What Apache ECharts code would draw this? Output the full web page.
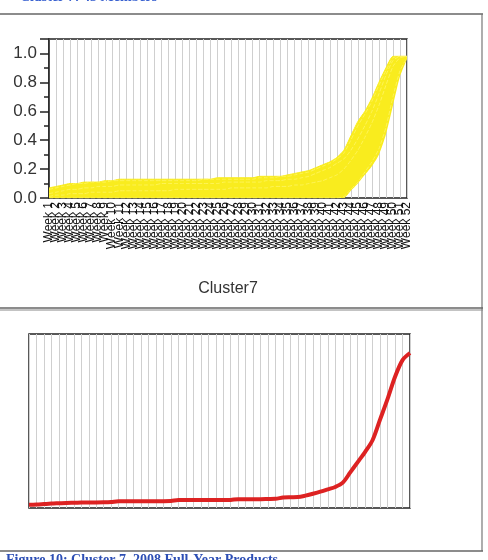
<!DOCTYPE html>
<html>
<head>
<meta charset="utf-8">
<script src="https://cdn.jsdelivr.net/npm/echarts@6/dist/echarts.min.js"></script>
<style>
html, body { margin: 0; padding: 0; background: #fff; }
#main { width: 488px; height: 560px; }
</style>
</head>
<body>
<div id="main"></div>
<script>
var myChart = echarts.init(document.getElementById('main'));

var weeks = [];
for (var w = 1; w <= 52; w++) weeks.push('Week ' + w);

var yTicks = [0.0, 0.2, 0.4, 0.6, 0.8, 1.0];

// envelope of the 43 members
var memberUpper = [0.07, 0.08, 0.09, 0.10, 0.10, 0.11, 0.11, 0.11, 0.12, 0.12,
    0.13, 0.13, 0.13, 0.13, 0.13, 0.13, 0.13, 0.13, 0.13, 0.13,
    0.13, 0.13, 0.13, 0.13, 0.14, 0.14, 0.14, 0.14, 0.14, 0.14,
    0.15, 0.15, 0.15, 0.15, 0.16, 0.17, 0.18, 0.19, 0.21, 0.23,
    0.25, 0.28, 0.33, 0.43, 0.53, 0.60, 0.69, 0.80, 0.90, 0.98, 0.98, 0.98];
var memberLower = [0, 0, 0, 0, 0, 0, 0, 0, 0, 0,
    0, 0, 0, 0, 0, 0, 0, 0, 0, 0,
    0, 0, 0, 0, 0, 0, 0, 0, 0, 0,
    0, 0, 0, 0, 0, 0, 0, 0, 0, 0,
    0, 0, 0, 0.05, 0.10, 0.16, 0.22, 0.30, 0.44, 0.64, 0.84, 0.96];

// a few individual members, visible as streaks inside the band
var memberA = [0.06, 0.07, 0.08, 0.09, 0.10, 0.10, 0.11, 0.11, 0.11, 0.12,
    0.12, 0.12, 0.12, 0.12, 0.12, 0.12, 0.12, 0.12, 0.12, 0.12,
    0.12, 0.12, 0.13, 0.13, 0.13, 0.13, 0.13, 0.13, 0.13, 0.13,
    0.14, 0.14, 0.14, 0.15, 0.15, 0.16, 0.17, 0.18, 0.20, 0.22,
    0.24, 0.27, 0.31, 0.40, 0.50, 0.58, 0.67, 0.78, 0.88, 0.97, 0.98, 0.98];
var memberB = [0.03, 0.04, 0.05, 0.06, 0.06, 0.07, 0.07, 0.08, 0.08, 0.08,
    0.09, 0.09, 0.09, 0.09, 0.09, 0.09, 0.10, 0.10, 0.10, 0.10,
    0.10, 0.10, 0.10, 0.10, 0.10, 0.11, 0.11, 0.11, 0.11, 0.11,
    0.11, 0.12, 0.12, 0.12, 0.13, 0.13, 0.14, 0.15, 0.17, 0.19,
    0.21, 0.24, 0.27, 0.33, 0.41, 0.50, 0.60, 0.72, 0.85, 0.95, 0.98, 0.98];
var memberC = [0.01, 0.02, 0.02, 0.03, 0.03, 0.03, 0.04, 0.04, 0.04, 0.04,
    0.05, 0.05, 0.05, 0.05, 0.05, 0.05, 0.05, 0.05, 0.06, 0.06,
    0.06, 0.06, 0.06, 0.06, 0.06, 0.06, 0.07, 0.07, 0.07, 0.07,
    0.07, 0.07, 0.08, 0.08, 0.08, 0.09, 0.09, 0.10, 0.11, 0.12,
    0.14, 0.16, 0.20, 0.26, 0.33, 0.42, 0.52, 0.64, 0.78, 0.91, 0.97, 0.98];
var memberD = [0, 0, 0, 0, 0, 0, 0, 0, 0, 0,
    0, 0, 0, 0, 0, 0, 0, 0, 0, 0,
    0, 0, 0, 0, 0, 0, 0, 0, 0, 0,
    0, 0, 0, 0, 0, 0, 0, 0, 0, 0,
    0, 0, 0.01, 0.06, 0.11, 0.18, 0.25, 0.34, 0.49, 0.70, 0.88, 0.97];

// cluster centroid (red line)
var centroid = [0.020, 0.022, 0.025, 0.028, 0.030, 0.032, 0.033, 0.034, 0.035, 0.035,
    0.036, 0.038, 0.042, 0.042, 0.042, 0.042, 0.043, 0.043, 0.043, 0.044,
    0.050, 0.050, 0.050, 0.050, 0.050, 0.050, 0.050, 0.051, 0.056, 0.056,
    0.056, 0.056, 0.057, 0.058, 0.066, 0.068, 0.069, 0.078, 0.090, 0.103,
    0.118, 0.133, 0.160, 0.225, 0.290, 0.355, 0.430, 0.560, 0.690, 0.830, 0.935, 0.980];

var bandWidth = [];
for (var i = 0; i < memberUpper.length; i++) {
    bandWidth.push(+(memberUpper[i] - memberLower[i]).toFixed(3));
}

var yellow = '#f9ec1e';
var streak = '#fff566';

function memberSeries(data) {
    return {
        type: 'line', xAxisIndex: 0, yAxisIndex: 0,
        data: data, symbol: 'none', smooth: 0.2, silent: true,
        lineStyle: { color: streak, width: 0.8, type: [4, 2] },
        z: 3
    };
}

option = {
    animation: false,
    grid: [
        { left: 49, right: 81, top: 39, height: 159, show: true,
          borderColor: '#222', borderWidth: 1.5, backgroundColor: 'transparent' },
        { left: 29, right: 78, top: 334, height: 174, show: true,
          borderColor: '#222', borderWidth: 1.5, backgroundColor: 'transparent' }
    ],
    xAxis: [
        {
            gridIndex: 0, type: 'category', data: weeks, boundaryGap: false,
            axisLine: { show: false }, axisTick: { show: false },
            axisLabel: { interval: 0, rotate: 90, fontSize: 12, color: '#111',
                fontFamily: 'Liberation Sans', margin: 4 },
            splitLine: { show: true, interval: 0, lineStyle: { color: '#cfcfcf', width: 1 } }
        },
        {
            gridIndex: 1, type: 'category', data: weeks, boundaryGap: false,
            axisLine: { show: false }, axisTick: { show: false },
            axisLabel: { show: false },
            splitLine: { show: true, interval: 0, lineStyle: { color: '#cfcfcf', width: 1 } }
        }
    ],
    yAxis: [
        {
            gridIndex: 0, type: 'value', min: 0, max: 1.1, interval: 0.2,
            axisLine: { show: true, lineStyle: { color: '#222', width: 1.5 } },
            axisTick: { show: true, length: 9, lineStyle: { color: '#222', width: 1.5 } },
            minorTick: { show: true, splitNumber: 2, length: 5, lineStyle: { color: '#222', width: 1.5 } },
            axisLabel: {
                fontSize: 17, color: '#333', fontFamily: 'Liberation Sans', margin: 12,
                showMaxLabel: false,
                formatter: function (v) {
                    return yTicks.indexOf(+v.toFixed(1)) >= 0 && v <= 1.0 ? v.toFixed(1) : '';
                }
            },
            splitLine: { show: false }
        },
        {
            gridIndex: 1, type: 'value', min: 0, max: 1.1,
            axisLine: { show: false }, axisTick: { show: false },
            axisLabel: { show: false }, splitLine: { show: false }
        }
    ],
    graphic: [
        { type: 'text', left: 20, top: -10,
          style: { text: 'Cluster 7: 43 Members', fill: '#3a62d0',
                   font: 'bold 14px "Liberation Serif"' } },
        { type: 'line', shape: { x1: 0, y1: 14, x2: 483, y2: 14 },
          style: { stroke: '#666', lineWidth: 1.5 } },
        { type: 'line', shape: { x1: 482, y1: 14, x2: 482, y2: 551 },
          style: { stroke: '#777', lineWidth: 1.2 } },
        { type: 'line', shape: { x1: 0, y1: 308, x2: 483, y2: 308 },
          style: { stroke: '#666', lineWidth: 1.5 } },
        { type: 'line', shape: { x1: 0, y1: 310, x2: 483, y2: 310 },
          style: { stroke: '#888', lineWidth: 1 } },
        { type: 'line', shape: { x1: 0, y1: 551, x2: 483, y2: 551 },
          style: { stroke: '#666', lineWidth: 1.5 } },
        { type: 'text', x: 228, y: 281,
          style: { text: 'Cluster7', fill: '#333', font: '16px "Liberation Sans"',
                   align: 'center' } },
        { type: 'text', left: 6, top: 553,
          style: { text: 'Figure 10: Cluster 7, 2008 Full-Year Products', fill: '#2d4fb5',
                   font: 'bold 14px "Liberation Serif"' } }
    ],
    series: [
        {
            name: 'lower', type: 'line', xAxisIndex: 0, yAxisIndex: 0,
            data: memberLower, stack: 'env', symbol: 'none', smooth: 0.2, silent: true,
            lineStyle: { width: 0 }, z: 2
        },
        {
            name: 'band', type: 'line', xAxisIndex: 0, yAxisIndex: 0,
            data: bandWidth, stack: 'env', symbol: 'none', smooth: 0.2, silent: true,
            lineStyle: { width: 1, color: yellow },
            areaStyle: { color: yellow, opacity: 1 }, z: 2
        },
        memberSeries(memberA),
        memberSeries(memberB),
        memberSeries(memberC),
        memberSeries(memberD),
        {
            name: 'Cluster7', type: 'line', xAxisIndex: 1, yAxisIndex: 1,
            data: centroid, symbol: 'none', smooth: 0.3, silent: true,
            lineStyle: { color: '#dd2222', width: 4 }, z: 3
        }
    ]
};

myChart.setOption(option);
</script>
</body>
</html>
